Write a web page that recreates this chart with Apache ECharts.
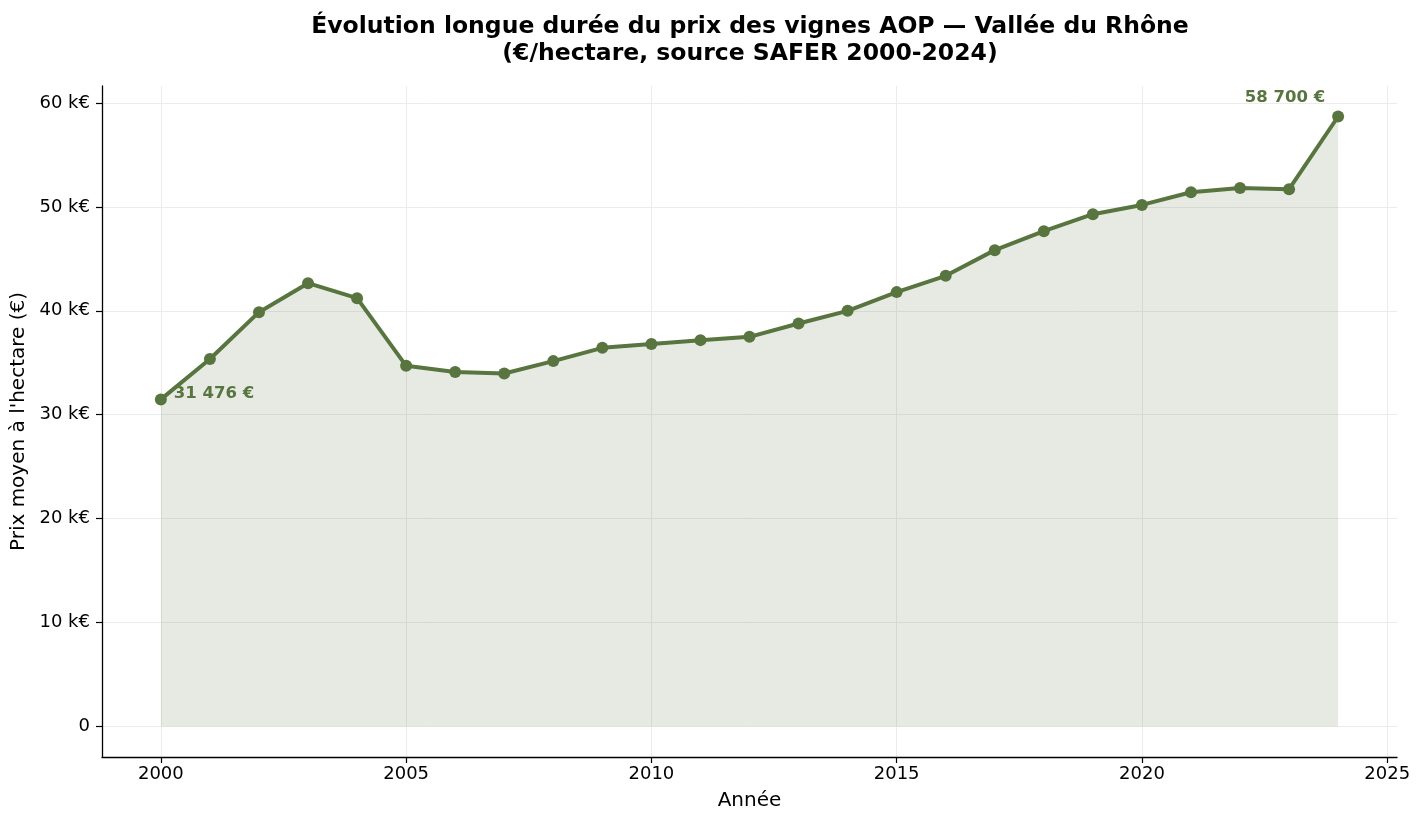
<!DOCTYPE html>
<html>
<head>
<meta charset="utf-8">
<script src="https://cdn.jsdelivr.net/npm/echarts@6/dist/echarts.min.js"></script>
<style>
  html, body { margin: 0; padding: 0; background: #fff; }
  #chart { width: 1423px; height: 824px; }
</style>
</head>
<body>
<div id="chart"></div>
<script>
// Prix moyen des vignes AOP, Vallée du Rhône (€/ha)
const years = [2000, 2001, 2002, 2003, 2004, 2005, 2006, 2007, 2008, 2009, 2010, 2011, 2012,
  2013, 2014, 2015, 2016, 2017, 2018, 2019, 2020, 2021, 2022, 2023, 2024];
const prices = [31476, 35360, 39870, 42660, 41220, 34710, 34110, 33970, 35160, 36440, 36800, 37180, 37500,
  38780, 40000, 41800, 43370, 45840, 47660, 49300, 50190, 51410, 51830, 51700, 58700];
const xTicks = [2000, 2005, 2010, 2015, 2020, 2025];
const yTicks = [0, 10000, 20000, 30000, 40000, 50000, 60000];

const olive = '#587540';
const font = 'DejaVu Sans';

const fmtEuro = v => String(v).replace(/\B(?=(\d{3})+(?!\d))/g, ' ') + ' €';

const last = years.length - 1;
const points = years.map((y, i) => {
  const item = { value: [y, prices[i]] };
  if (i === 0) {
    item.label = { show: true, position: 'right', distance: 7, offset: [0, -6] };
  } else if (i === last) {
    item.label = { show: true, position: 'left', distance: 7, offset: [0, -19] };
  }
  return item;
});

const chart = echarts.init(document.getElementById('chart'));

chart.setOption({
  animation: false,
  textStyle: { fontFamily: font },
  title: {
    text: 'Évolution longue durée du prix des vignes AOP — Vallée du Rhône\n(€/hectare, source SAFER 2000-2024)',
    left: 745,
    textAlign: 'center',
    top: 8,
    textStyle: { fontFamily: font, fontSize: 23.5, fontWeight: 'bold', color: '#000', lineHeight: 27 }
  },
  grid: { left: 102, right: 26, top: 86, bottom: 67 },
  xAxis: {
    type: 'value',
    min: 1998.8,
    max: 2025.2,
    name: 'Année',
    nameLocation: 'middle',
    nameGap: 34,
    nameTextStyle: { fontFamily: font, fontSize: 20, color: '#000' },
    axisLine: { onZero: false, lineStyle: { color: '#000', width: 1.3 } },
    axisTick: { show: true, length: 6, customValues: xTicks, lineStyle: { color: '#000', width: 1.2 } },
    axisLabel: { customValues: xTicks, margin: 8, fontSize: 18, color: '#000', formatter: v => String(v) },
    splitLine: { show: true, lineStyle: { color: '#ececec', width: 1 } }
  },
  yAxis: {
    type: 'value',
    min: -2935,
    max: 61635,
    name: "Prix moyen à l'hectare (€)",
    nameLocation: 'middle',
    nameGap: 71,
    nameTextStyle: { fontFamily: font, fontSize: 20, color: '#000' },
    axisLine: { show: true, onZero: false, lineStyle: { color: '#000', width: 1.3 } },
    axisTick: { show: true, length: 6, customValues: yTicks, lineStyle: { color: '#000', width: 1.2 } },
    axisLabel: {
      customValues: yTicks, margin: 12, fontSize: 18, color: '#000',
      formatter: v => v === 0 ? '0' : (v / 1000) + ' k€'
    },
    splitLine: { show: true, lineStyle: { color: '#ececec', width: 1 } }
  },
  series: [{
    type: 'line',
    data: points,
    symbol: 'circle',
    symbolSize: 12,
    lineStyle: { color: olive, width: 4 },
    itemStyle: { color: olive },
    areaStyle: { color: olive, opacity: 0.15, origin: 0 },
    label: {
      show: false,
      fontFamily: font,
      fontSize: 16.5,
      fontWeight: 'bold',
      color: olive,
      formatter: p => fmtEuro(p.value[1])
    }
  }]
});
</script>
</body>
</html>
